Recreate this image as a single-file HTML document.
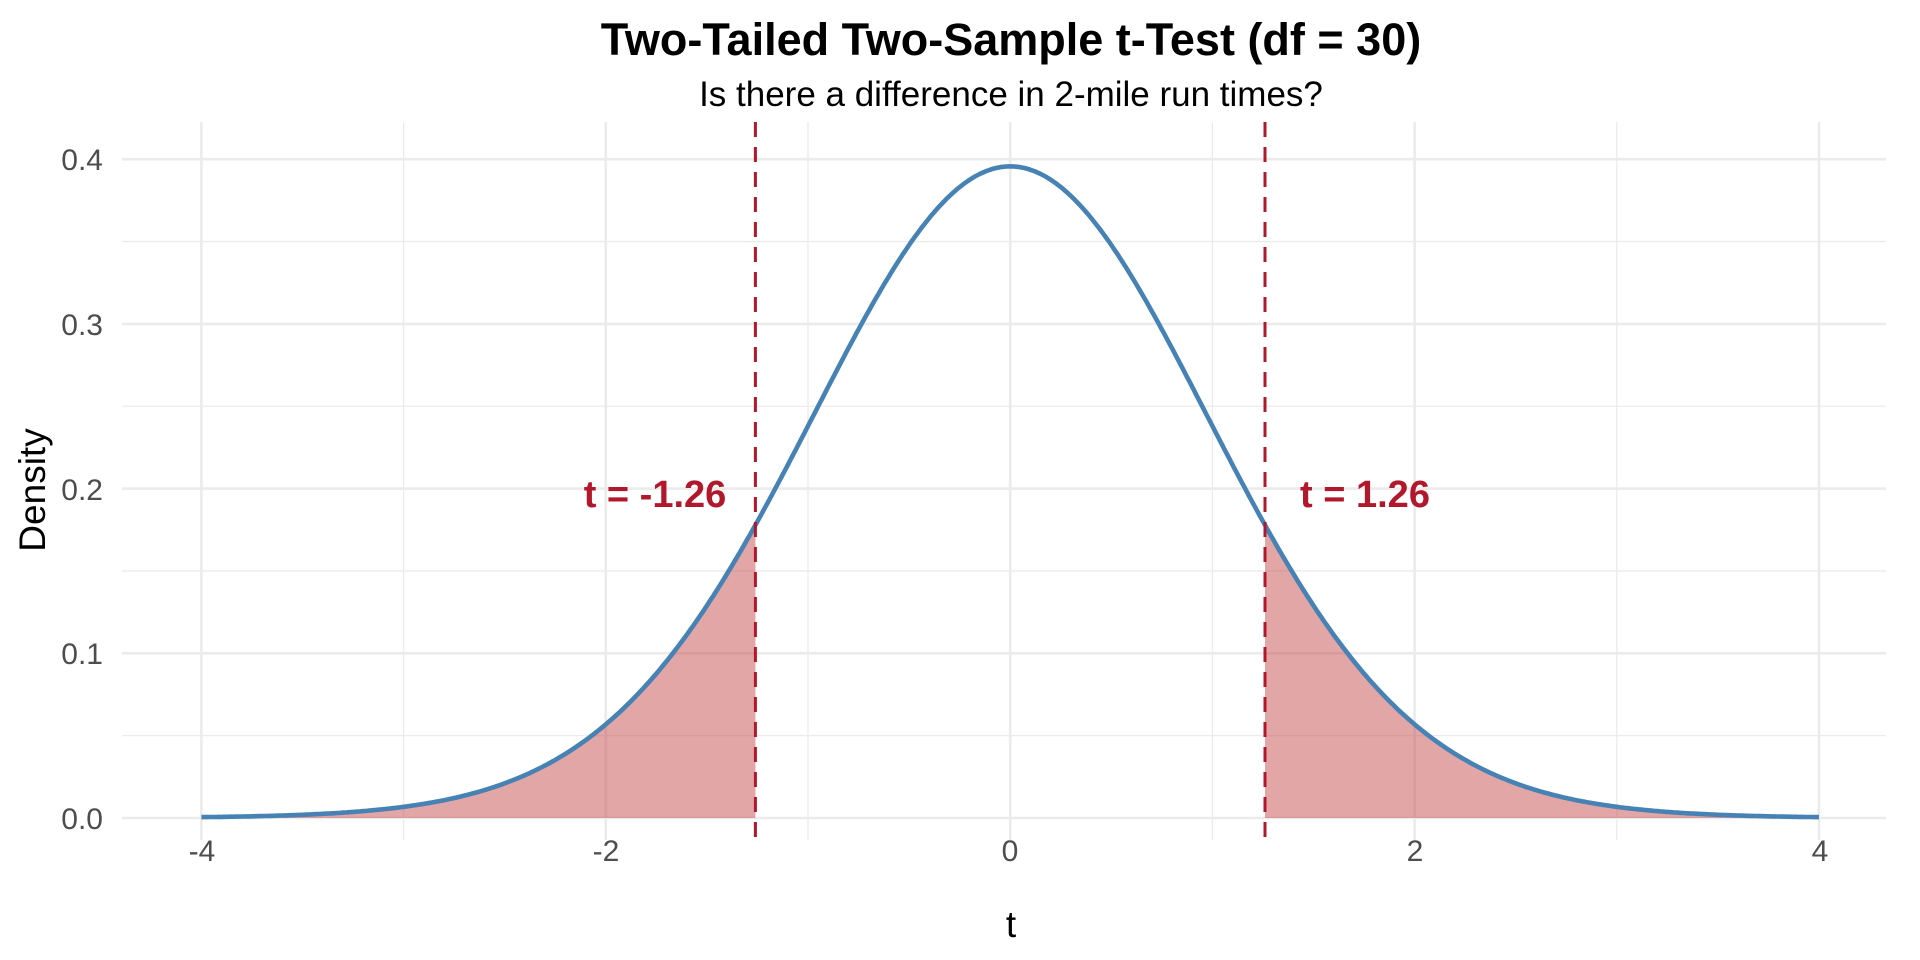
<!DOCTYPE html>
<html><head><meta charset="utf-8"><style>
html,body{margin:0;padding:0;background:#fff;}
svg{display:block;font-family:"Liberation Sans",Arial,sans-serif;}
</style></head><body>
<svg id="s" width="1920" height="960" viewBox="0 0 1920 960" xmlns="http://www.w3.org/2000/svg">
<g id="grid"></g>
<path id="fl" fill="#c0393b" fill-opacity="0.45" stroke="none"/>
<path id="fr" fill="#c0393b" fill-opacity="0.45" stroke="none"/>
<path id="cv" fill="none" stroke="#4682B4" stroke-width="4.6" stroke-linejoin="round"/>
<line x1="755.4" y1="122" x2="755.4" y2="840" stroke="#B2182B" stroke-width="3" stroke-dasharray="15,10"/>
<line x1="1265" y1="122" x2="1265" y2="840" stroke="#B2182B" stroke-width="3" stroke-dasharray="15,10"/>
<text x="655" y="507" font-size="38" font-weight="bold" fill="#B2182B" text-anchor="middle">t = -1.26</text>
<text x="1365" y="507" font-size="38" font-weight="bold" fill="#B2182B" text-anchor="middle">t = 1.26</text>
<g font-size="30" fill="#4d4d4d" text-anchor="end">
<text x="103" y="829">0.0</text><text x="103" y="664">0.1</text><text x="103" y="500">0.2</text><text x="103" y="335">0.3</text><text x="103" y="170">0.4</text>
</g>
<g font-size="30" fill="#4d4d4d" text-anchor="middle">
<text x="202" y="861">-4</text><text x="606" y="861">-2</text><text x="1010" y="861">0</text><text x="1415" y="861">2</text><text x="1820" y="861">4</text>
</g>
<text x="1011" y="937" font-size="37" text-anchor="middle" fill="#000">t</text>
<text transform="translate(45,490) rotate(-90)" font-size="37" text-anchor="middle" fill="#000">Density</text>
<text x="1011" y="55" font-size="45" font-weight="bold" text-anchor="middle" fill="#000">Two-Tailed Two-Sample t-Test (df = 30)</text>
<text x="1011" y="106" font-size="35" text-anchor="middle" fill="#000">Is there a difference in 2-mile run times?</text>
</svg>
<script>
var X=function(t){return 1010.2+t*202.2;},Y=function(d){return 818-d*1647;};
var g=document.getElementById('grid'),h='';
for(var t=-3;t<=3;t+=2)h+='<line x1="'+X(t)+'" y1="122" x2="'+X(t)+'" y2="840" stroke="#ebebeb" stroke-width="1.3"/>';
for(var d=0.05;d<0.4;d+=0.1)h+='<line x1="122" y1="'+Y(d)+'" x2="1886" y2="'+Y(d)+'" stroke="#ebebeb" stroke-width="1.3"/>';
for(var t=-4;t<=4;t+=2)h+='<line x1="'+X(t)+'" y1="122" x2="'+X(t)+'" y2="840" stroke="#ebebeb" stroke-width="2.6"/>';
for(var i=0;i<=4;i++)h+='<line x1="122" y1="'+Y(i/10)+'" x2="1886" y2="'+Y(i/10)+'" stroke="#ebebeb" stroke-width="2.6"/>';
g.innerHTML=h;
var nu=30;function lg(z){var c=[76.18009172947146,-86.50532032941677,24.01409824083091,-1.231739572450155,0.1208650973866179e-2,-0.5395239384953e-5];var x=z,y=z,tmp=x+5.5;tmp-=(x+0.5)*Math.log(tmp);var ser=1.000000000190015;for(var j=0;j<6;j++)ser+=c[j]/++y;return -tmp+Math.log(2.5066282746310005*ser/x);}
var C=Math.exp(lg(15.5)-lg(15))/Math.sqrt(nu*Math.PI);
function f(t){return C*Math.pow(1+t*t/nu,-(nu+1)/2);}
var p='';for(var i=0;i<=800;i++){var t=-4+i*0.01;p+=(i?'L':'M')+X(t).toFixed(1)+','+Y(f(t)).toFixed(1);}
document.getElementById('cv').setAttribute('d',p);
function area(a,b){var s='M'+X(a)+','+Y(0);for(var t=a;t<=b+1e-9;t+=0.01)s+='L'+X(t).toFixed(1)+','+Y(f(t)).toFixed(1);s+='L'+X(b)+','+Y(f(b)).toFixed(1)+'L'+X(b)+','+Y(0)+'Z';return s;}
document.getElementById('fl').setAttribute('d',area(-4,-1.26));
document.getElementById('fr').setAttribute('d',area(1.26,4));
</script>
</body></html>
